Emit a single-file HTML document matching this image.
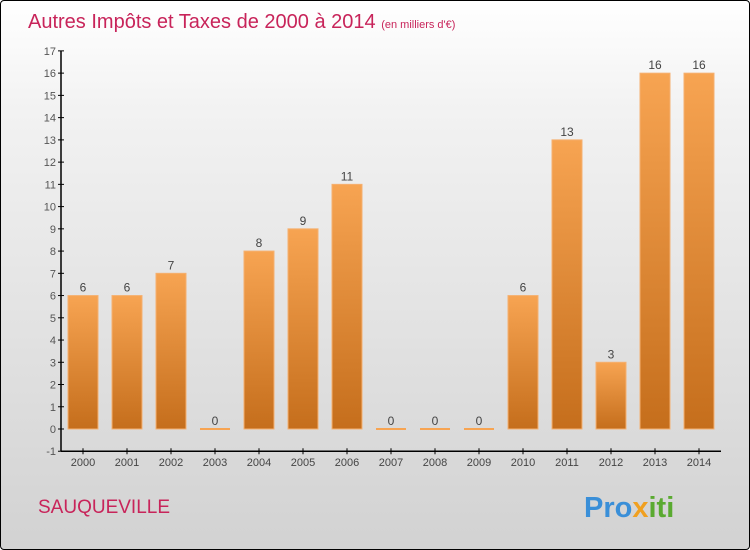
<!DOCTYPE html>
<html><head><meta charset="utf-8"><style>
body{margin:0;width:750px;height:550px;overflow:hidden;font-family:"Liberation Sans",sans-serif}
#wrap{position:absolute;left:0;top:0;width:748px;height:548px;border:1px solid #000;border-radius:4px;background:linear-gradient(#ffffff,#f2f2f2 20%,#d2d2d2);overflow:hidden}
</style></head><body>
<div id="wrap">
<svg id="chart" width="750" height="550">
<defs><linearGradient id="bg" x1="0" y1="0" x2="0" y2="1"><stop offset="0" stop-color="#f7a452"/><stop offset="1" stop-color="#c56e1c"/></linearGradient></defs>
<text x="27" y="27" font-size="20" fill="#c8245a">Autres Impôts et Taxes de 2000 à 2014 <tspan font-size="11">(en milliers d'€)</tspan></text>
<text x="37" y="512" font-size="19" fill="#c8245a">SAUQUEVILLE</text>
<text x="583" y="516" font-size="29" font-weight="bold"><tspan fill="#3a8fd8">Pro</tspan><tspan fill="#f0a020">x</tspan><tspan fill="#5aaa30">iti</tspan></text>
<g id="axes"></g><g id="bars"></g>
</svg></div>
<script>
const years=["2000","2001","2002","2003","2004","2005","2006","2007","2008","2009","2010","2011","2012","2013","2014"];
const values=[6,6,7,0,8,9,11,0,0,0,6,13,3,16,16];
const yTicks=[-1,0,1,2,3,4,5,6,7,8,9,10,11,12,13,14,15,16,17];
const NS="http://www.w3.org/2000/svg";
function y(v){return 428-v*22.24;}
function x(i){return 82+i*44;}
function mk(t,a,p){const e=document.createElementNS(NS,t);for(const k in a)e.setAttribute(k,a[k]);p.appendChild(e);return e;}
const ax=document.getElementById('axes'),bs=document.getElementById('bars');
let l=mk('line',{x1:60,y1:y(17),x2:60,y2:y(-1),stroke:'#000','stroke-width':1.5},ax);


l=mk('line',{x1:60,y1:y(-1),x2:720,y2:y(-1),stroke:'#000','stroke-width':1.5},ax);


yTicks.forEach(v=>{
 mk('line',{x1:57,x2:63,y1:y(v),y2:y(v),stroke:'#000'},ax);
 const t=mk('text',{x:55,y:y(v)+4,'font-size':11,fill:'#555','text-anchor':'end'},ax);t.textContent=v;
 
 
});
years.forEach((yr,i)=>{
 mk('line',{x1:x(i),x2:x(i),y1:y(-1)-3,y2:y(-1)+3,stroke:'#000'},ax);
 const t=mk('text',{x:x(i),y:y(-1)+15,'font-size':11,fill:'#444','text-anchor':'middle'},ax);t.textContent=yr;
 
 
 const v=values[i];
 const r=mk('rect',{x:x(i)-15,y:v>0?y(v):y(0)-1,width:30,height:v>0?y(0)-y(v):2,fill:v>0?'url(#bg)':'#f7a452',stroke:v>0?'#f5b070':'none','stroke-width':1},bs);
 
 
 const lb=mk('text',{x:x(i),y:y(v)-4,'font-size':12,fill:'#444','text-anchor':'middle'},bs);lb.textContent=v;
 
 
});
</script>
</body></html>
